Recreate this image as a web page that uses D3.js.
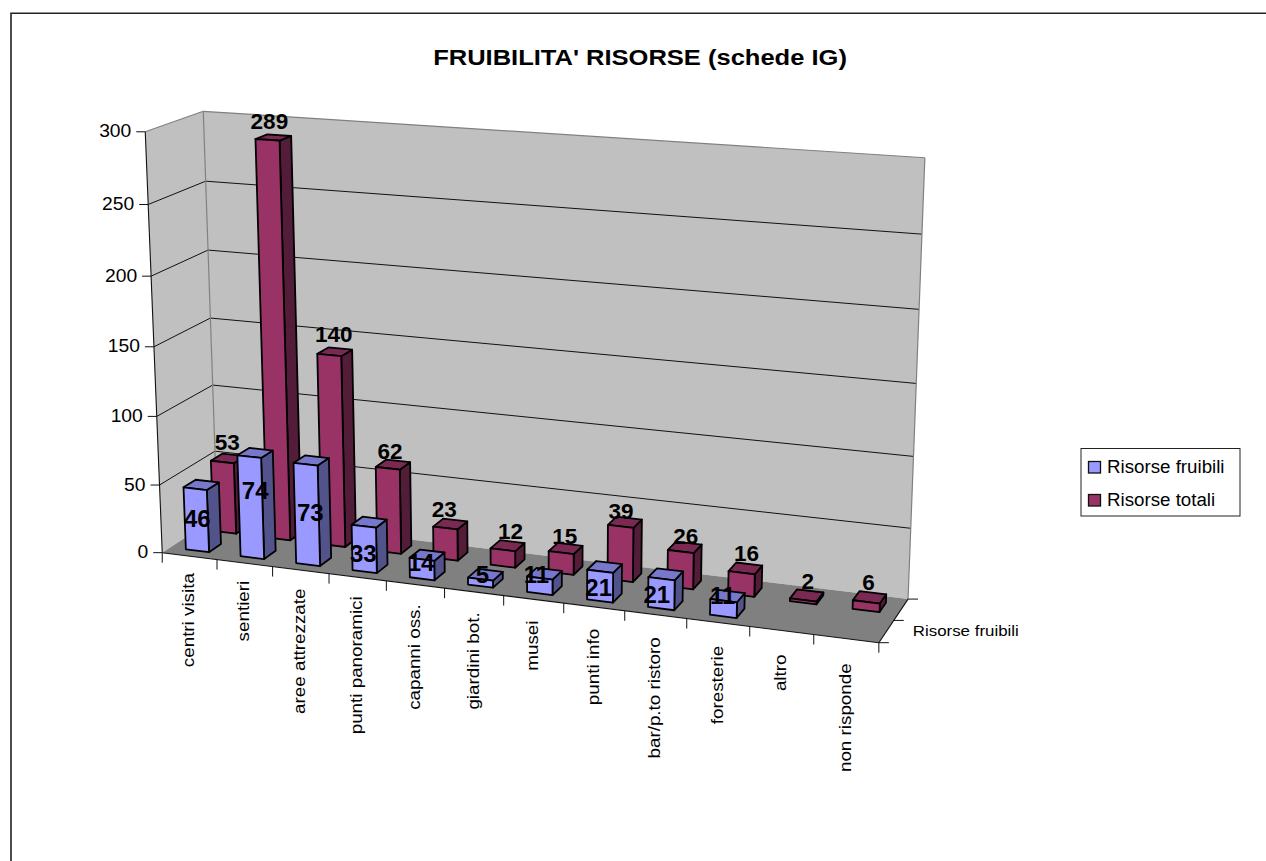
<!DOCTYPE html>
<html><head><meta charset="utf-8">
<script src="https://cdn.jsdelivr.net/npm/d3@7/dist/d3.min.js"></script>
<style>html,body{margin:0;padding:0;background:#fff;overflow:hidden}svg{display:block}text{font-family:"Liberation Sans",Arial,sans-serif;fill:#000}</style>
</head><body><svg id="c" width="1266" height="861"></svg>
<script>
const titleText = "FRUIBILITA' RISORSE (schede IG)";
const categories = ["centri visita","sentieri","aree attrezzate","punti panoramici","capanni oss.","giardini bot.","musei","punti info","bar/p.to ristoro","foresterie","altro","non risponde"];
const seriesNames = ["Risorse fruibili","Risorse totali"];
const fruibili = [46,74,73,33,14,5,11,21,21,11,0,0];
const totali = [53,289,140,62,23,12,15,39,26,16,2,6];
const valueTicks = [0,50,100,150,200,250,300];
const fills = {
  "Risorse fruibili":{front:"#9999FF",side:"#53538C",top:"#7777CC"},
  "Risorse totali":{front:"#993366",side:"#531C38",top:"#7A2952"}
};
// label placement relative to the top of each bar
const labelDrop = {
  "Risorse fruibili":[35,39,54,33,9,1,2,22,22,1,0,0],
  "Risorse totali":[-1,-1,-3,1,0,0,3,4,4,0,1,0]
};
const labelShift = {
  "Risorse fruibili":[0,4,3,-2,-2,1,-4,-2,-5,-1,0,0],
  "Risorse totali":[0,-3,0,-2,-5,4,0,-3,2,2,2,0]
};

const svg = d3.select("#c");
const W=1266,H=861;
const xS = d3.scaleLinear().domain([0,categories.length]).range([0,1]);
const yS = d3.scaleLinear().domain([0,300]).range([0,1]);
const zS = d3.scaleLinear().domain([0,1]).range([0,1]);

// perspective camera fitted from the frame's corners
const anchors = [
 [0,0,0,162,552],[1,0,0,879,643],[0,0,1,217,517],[1,0,1,908,599],
 [0,1,0,145,132],[0,1,1,203,111],[1,1,1,925,158],
 [0,.5,0,154.3,347],[0,.5,1,211,318],[1,.5,1,916,383]
];
function solveCamera(pts){
  const n=11,A=Array.from({length:n},()=>new Array(n+1).fill(0));
  const add=(r,b)=>{for(let i=0;i<n;i++){for(let j=0;j<n;j++)A[i][j]+=r[i]*r[j];A[i][n]+=r[i]*b;}};
  pts.forEach(([x,y,z,u,v])=>{u/=1000;v/=1000;
    add([x,y,z,1,0,0,0,0,-u*x,-u*y,-u*z],u);
    add([0,0,0,0,x,y,z,1,-v*x,-v*y,-v*z],v);});
  for(let i=0;i<n;i++){let p=i;for(let k=i+1;k<n;k++)if(Math.abs(A[k][i])>Math.abs(A[p][i]))p=k;
    [A[i],A[p]]=[A[p],A[i]];
    for(let k=0;k<n;k++){if(k===i)continue;const f=A[k][i]/A[i][i];for(let j=i;j<=n;j++)A[k][j]-=f*A[i][j];}}
  return A.map((r,i)=>r[n]/r[i]);
}
const m=solveCamera(anchors);
function proj(x,y,z){const w=m[8]*x+m[9]*y+m[10]*z+1;
  return [1000*(m[0]*x+m[1]*y+m[2]*z+m[3])/w,1000*(m[4]*x+m[5]*y+m[6]*z+m[7])/w];}
const P=(cat,val,depth)=>proj(xS(cat),yS(val),zS(depth));
const poly=(pts,fill,stroke,sw)=>svg.append("polygon").attr("points",pts.map(p=>p.map(v=>v.toFixed(2)).join(",")).join(" "))
   .attr("fill",fill).attr("stroke",stroke||"none").attr("stroke-width",sw||0).attr("stroke-linejoin","round");
const line=(a,b,s,w)=>svg.append("line").attr("x1",a[0]).attr("y1",a[1]).attr("x2",b[0]).attr("y2",b[1]).attr("stroke",s).attr("stroke-width",w);
// text with horizontal stretch (the reference is a slightly widened picture)
const label=(x,y,str,size,sx,anchor,bold,rot)=>svg.append("text")
   .attr("transform",`translate(${x},${y})${rot?` rotate(${rot})`:""} scale(${sx},1)`)
   .attr("text-anchor",anchor).attr("font-size",size).attr("font-weight",bold?"bold":"normal").text(str);
const N=categories.length, VM=300;

// outer border: left and top only
svg.append("path").attr("d",`M11 ${H}V13.25H${W}`).attr("fill","none").attr("stroke","#222").attr("stroke-width",1.6);

// walls
poly([P(0,0,0),P(0,VM,0),P(0,VM,1),P(0,0,1)],"#C0C0C0");
poly([P(0,0,1),P(0,VM,1),P(N,VM,1),P(N,0,1)],"#C0C0C0");
poly([P(0,0,0),P(0,0,1),P(N,0,1),P(N,0,0)],"#808080");
valueTicks.forEach(t=>{
  if(t>0&&t<300){line(P(0,t,0),P(0,t,1),"#111",1);line(P(0,t,1),P(N,t,1),"#111",1);}
});
line(P(0,VM,0),P(0,VM,1),"#808080",1.2);line(P(0,VM,1),P(N,VM,1),"#808080",1.2);
line(P(0,0,1),P(0,VM,1),"#808080",1.2);line(P(N,0,1),P(N,VM,1),"#808080",1.2);
line(P(0,0,0),P(0,VM,0),"#111",1.1);line(P(0,0,0),P(N,0,0),"#111",1.1);line(P(N,0,0),P(N,0,1),"#111",1.1);
// y ticks + labels
valueTicks.forEach(t=>{const p=P(0,t,0);line([p[0]-9,p[1]],p,"#111",1);
  label(p[0]-14,p[1]+5.5,t,18,1.07,"end");});
// category ticks + labels
d3.range(N+1).forEach(i=>{const p=P(i,0,0);line(p,[p[0],p[1]+10],"#111",1);});
categories.forEach((c,i)=>{const a=P(i,0,0),b=P(i+1,0,0);
  label((a[0]+b[0])/2+4.5,(a[1]+b[1])/2+17+i*.7,c,16.5,1.14,"end",false,-90);});
// depth ticks + label
[0,.5,1].forEach(z=>{const p=P(N,0,z);line(p,[p[0]+10,p[1]],"#111",1);});
{const p=P(N,0,.5);label(p[0]+19,p[1]+16,seriesNames[0],15.5,1.09,"start");}

// bars: rear series first
const slot=1/2, barDepth=slot/2.3, barW=1/2.35;
function bar(i,val,sIdx,name){
  const x0=i+(1-barW)/2,x1=x0+barW;
  const z0=sIdx*slot+(slot-barDepth)/2,z1=z0+barDepth;
  const c=fills[name],st="#000",sw=1.8;
  poly([P(x1,0,z0),P(x1,val,z0),P(x1,val,z1),P(x1,0,z1)],c.side,st,sw);
  poly([P(x0,val,z0),P(x1,val,z0),P(x1,val,z1),P(x0,val,z1)],c.top,st,sw);
  poly([P(x0,0,z0),P(x1,0,z0),P(x1,val,z0),P(x0,val,z0)],c.front,st,sw);
}
const labels=[];
[[1,totali],[0,fruibili]].forEach(([s,vals])=>{
  vals.forEach((v,i)=>{ if(v===0) return;
    bar(i,v,s,seriesNames[s]);
    const p=P(i+.5,v,s*slot+slot/2);
    const n=seriesNames[s];
    labels.push({x:p[0]+(s?-1:-4)+labelShift[n][i],y:p[1]+labelDrop[n][i]+(s?-7:7),v,size:s?22.5:24});
  });
});
labels.forEach(l=>label(l.x,l.y,l.v,l.size,1,"middle",true));

// title
label(640,65,titleText,22,1.16,"middle",true);

// legend
svg.append("rect").attr("x",1081).attr("y",448.5).attr("width",159).attr("height",67.5).attr("fill","#fff").attr("stroke","#222").attr("stroke-width",1);
seriesNames.forEach((n,i)=>{const y=461.5+i*33;
  svg.append("rect").attr("x",1088.5).attr("y",y).attr("width",12).attr("height",11.5).attr("fill",fills[n].front).attr("stroke","#111").attr("stroke-width",1.3);
  label(1107,y+11.5,n,18,1.04,"start");
});
</script></body></html>
